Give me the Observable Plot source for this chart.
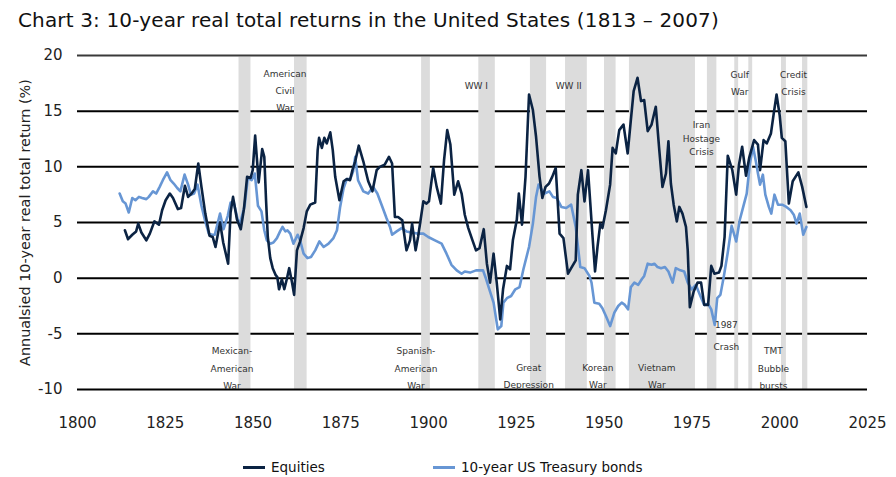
<!DOCTYPE html>
<html>
<head>
<meta charset="utf-8">
<script src="https://cdn.jsdelivr.net/npm/d3@7"></script>
<script src="https://cdn.jsdelivr.net/npm/@observablehq/plot@0.6"></script>
<style>
  body { margin: 0; background: #fff; }
  #wrap { position: relative; width: 896px; height: 477px; font-family: "DejaVu Sans", sans-serif; }
  #title { position: absolute; left: 18px; top: 10px; font-size: 20px; line-height: 20px; letter-spacing: 0.15px; color: #111; white-space: nowrap; font-family: "DejaVu Sans", sans-serif; }
  #chart { position: absolute; left: 0; top: 40px; }
  .lg { position: absolute; top: 459px; font-size: 13.5px; line-height: 16px; color: #111; white-space: nowrap; }
  .sw { display: inline-block; width: 22px; height: 3px; vertical-align: middle; margin-right: 6px; position: relative; top: -1px; }
</style>
</head>
<body>
<div id="wrap">
  <div id="title">Chart 3: 10-year real total returns in the United States (1813 – 2007)</div>
  <div id="chart"></div>
  <div class="lg" style="left:243px"><span class="sw" style="background:#0b2343"></span>Equities</div>
  <div class="lg" style="left:433px"><span class="sw" style="background:#6796d4"></span>10-year US Treasury bonds</div>
</div>
<script>
// Equities: 10-year annualised real total return (%)
const equityYears = [1813.5,1814.4,1815.6,1816.7,1817.3,1818.2,1819.6,1820.6,1821.9,1823.2,1824.1,1825.1,1826.3,1827.2,1828.6,1829.5,1830.6,1831.5,1832.5,1833.4,1834.4,1835.3,1836.4,1837.6,1838.5,1839.3,1840.6,1841.5,1842.9,1843.6,1844.3,1845.4,1846.5,1847.4,1848.3,1849.3,1849.9,1850.6,1851.6,1852.6,1853.2,1853.7,1854.2,1854.9,1855.6,1856.4,1856.9,1857.4,1858.2,1858.9,1859.6,1860.3,1861.1,1861.7,1862.5,1863.4,1864.4,1865.3,1866.3,1867.7,1868.4,1868.8,1869.6,1870.3,1871.0,1872.0,1872.7,1873.4,1874.6,1875.8,1876.7,1877.6,1878.3,1879.1,1880.1,1881.4,1882.8,1884.0,1885.2,1886.1,1887.5,1888.7,1889.6,1890.4,1891.3,1892.5,1893.2,1893.7,1894.7,1895.3,1896.3,1897.0,1898.5,1899.4,1900.1,1901.3,1902.3,1903.5,1904.4,1905.3,1906.2,1907.3,1908.4,1909.4,1910.3,1911.3,1912.5,1913.5,1914.5,1915.7,1916.6,1917.5,1918.5,1919.4,1920.4,1921.2,1922.3,1923.2,1924.0,1925.1,1925.7,1926.6,1927.6,1928.6,1929.7,1930.6,1931.6,1932.4,1933.3,1934.3,1935.2,1936.2,1937.3,1938.4,1939.7,1940.6,1941.9,1942.5,1943.5,1944.4,1945.4,1946.1,1946.7,1947.4,1948.1,1948.9,1949.5,1950.5,1951.7,1952.4,1953.3,1954.3,1955.5,1956.7,1957.6,1958.4,1959.5,1960.5,1961.4,1962.4,1963.5,1964.7,1965.7,1966.6,1967.6,1968.3,1969.0,1969.8,1970.7,1971.4,1972.3,1973.3,1973.8,1974.4,1975.5,1976.6,1977.6,1978.5,1979.6,1980.5,1981.4,1982.7,1983.4,1984.3,1985.2,1986.5,1987.6,1988.4,1989.3,1990.4,1991.3,1992.7,1993.8,1994.4,1995.4,1996.3,1997.5,1998.3,1999.1,2000.0,2000.6,2001.6,2002.6,2003.7,2005.3,2006.4,2007.6];
const equityValues = [4.3,3.5,3.9,4.2,4.9,4.1,3.4,4.0,5.1,4.8,6.1,7.0,7.6,7.2,6.2,6.3,8.3,7.3,7.6,8.0,10.3,8.2,5.8,3.8,3.7,2.8,5.0,3.2,1.3,5.9,7.3,5.3,4.4,6.2,9.1,9.0,9.7,12.8,8.6,11.6,10.9,7.0,3.7,1.8,0.9,0.3,0.1,-1.0,-0.1,-1.0,-0.1,0.9,-0.4,-1.5,2.5,3.3,4.5,6.0,6.6,6.8,11.5,12.6,11.7,12.6,12.1,13.1,11.5,9.1,7.0,8.7,8.9,8.8,9.7,10.5,11.9,10.5,8.7,7.8,9.7,10.0,10.2,10.9,10.3,5.5,5.5,5.2,3.6,2.5,3.4,4.9,2.5,3.7,6.9,6.7,6.9,9.9,8.2,6.7,10.6,13.3,12.0,7.5,8.7,7.6,5.7,4.5,3.4,2.5,2.7,4.4,1.3,-0.4,2.2,-0.4,-3.7,-1.0,1.1,0.8,3.4,5.2,7.6,4.8,9.1,16.5,15.1,12.7,9.1,7.2,8.2,8.5,9.1,9.9,4.0,3.6,0.4,0.9,1.6,7.5,9.7,6.9,9.7,6.5,3.7,0.6,2.8,4.9,4.5,6.1,8.4,11.7,11.2,13.3,13.8,11.2,14.2,16.8,18.0,15.9,16.0,13.2,13.8,15.4,11.5,8.2,9.4,12.3,8.5,6.6,5.1,6.4,5.8,4.6,2.5,-2.6,-1.2,-0.4,-0.4,-2.4,-2.4,1.1,0.4,0.5,1.1,3.7,11.0,9.7,7.5,10.2,11.8,9.2,10.8,12.4,12.0,9.7,12.4,12.1,13.0,14.8,16.5,14.6,12.6,12.3,6.7,8.7,9.5,8.2,6.4];

// 10-year US Treasury bonds
const bondYears = [1812.0,1812.9,1813.7,1814.6,1815.6,1816.5,1817.5,1818.4,1819.6,1820.3,1821.5,1822.4,1823.4,1824.3,1825.5,1826.5,1827.4,1828.4,1829.3,1830.5,1831.5,1832.3,1833.2,1834.2,1835.3,1836.3,1837.4,1838.4,1839.1,1840.6,1841.6,1842.8,1843.6,1844.5,1845.6,1846.3,1847.6,1848.5,1849.6,1850.5,1851.4,1852.4,1853.2,1853.9,1854.9,1855.8,1856.8,1857.7,1858.4,1859.2,1859.8,1860.6,1861.5,1862.7,1863.4,1864.4,1865.5,1866.5,1867.7,1868.9,1870.1,1871.5,1872.9,1873.9,1874.8,1875.8,1876.7,1877.7,1878.5,1879.1,1879.9,1881.4,1882.8,1884.2,1885.4,1886.6,1888.0,1889.0,1889.6,1890.9,1892.3,1893.7,1895.1,1897.0,1898.5,1899.9,1901.8,1903.7,1905.1,1906.5,1908.0,1909.4,1910.3,1911.8,1913.5,1915.5,1916.4,1917.3,1918.5,1919.7,1920.7,1921.3,1922.3,1923.5,1924.7,1925.9,1927.0,1928.6,1929.7,1930.6,1931.3,1932.1,1933.0,1934.4,1935.4,1936.5,1937.8,1939.2,1940.6,1941.9,1943.2,1944.4,1945.8,1946.4,1947.2,1948.6,1949.5,1950.5,1951.7,1952.9,1954.0,1955.0,1955.9,1956.8,1957.6,1958.6,1959.7,1960.7,1961.4,1962.4,1963.5,1964.3,1965.2,1966.2,1967.3,1968.3,1969.5,1970.4,1971.7,1972.8,1973.8,1974.9,1976.1,1977.4,1978.5,1979.6,1980.5,1981.5,1982.2,1983.1,1984.1,1985.2,1986.3,1987.6,1988.6,1989.6,1990.6,1991.5,1992.4,1993.2,1993.8,1994.4,1995.2,1995.9,1996.9,1997.6,1998.5,1999.5,2000.7,2001.9,2003.1,2004.0,2004.8,2005.7,2006.7,2007.6];
const bondValues = [7.6,6.9,6.7,5.9,7.2,7.0,7.3,7.2,7.1,7.3,7.8,7.6,8.2,8.8,9.5,8.8,8.5,8.1,7.8,9.3,8.4,7.5,7.6,8.4,6.5,5.2,4.0,3.9,3.9,5.8,4.4,5.6,6.8,6.8,5.3,4.9,6.5,9.0,8.8,9.4,6.5,6.0,4.3,3.4,3.1,3.2,3.6,4.2,4.6,4.2,4.3,4.0,3.1,3.9,3.4,2.2,1.8,1.9,2.5,3.3,2.8,3.1,3.6,4.3,6.4,8.1,8.9,8.9,9.6,10.9,8.8,7.8,7.6,8.2,7.6,6.6,5.4,4.6,3.9,4.2,4.5,4.2,4.1,4.0,4.0,3.7,3.4,3.1,2.2,1.2,0.7,0.4,0.6,0.5,0.7,0.7,-0.1,-1.0,-2.2,-4.6,-4.3,-2.2,-1.8,-1.6,-1.0,-0.8,0.8,2.8,4.9,7.3,8.4,8.0,7.6,7.8,7.3,7.2,6.4,6.3,6.6,4.6,1.0,0.9,0.2,-0.4,-2.2,-2.3,-2.7,-3.4,-4.3,-3.1,-2.5,-2.2,-2.4,-2.8,-0.8,-0.4,-0.6,-0.1,0.2,1.3,1.2,1.3,1.0,0.9,1.0,0.6,-0.4,0.9,0.7,0.6,-0.4,-1.0,-0.6,-1.6,-2.4,-2.3,-2.8,-4.2,-1.8,-1.5,0.2,2.3,4.7,3.3,5.2,6.4,7.6,10.3,11.8,10.5,9.4,8.4,9.3,7.5,6.4,5.8,7.5,6.6,6.6,6.4,6.1,5.7,4.9,5.8,3.9,4.6];

// Shaded event periods (start year, end year)
const bandStarts = [1846.0,1861.8,1898.0,1914.3,1929.0,1939.0,1950.1,1957.2,1979.4,1987.2,1991.2,2000.5,2006.5];
const bandEnds   = [1849.4,1865.4,1900.5,1919.0,1933.6,1945.2,1953.4,1976.0,1982.1,1988.3,1992.3,2001.9,2008.0];

// Event annotations
const annoLabels = ["American\nCivil\nWar","WW I","WW II","Gulf\nWar","Credit\nCrisis","Mexican-\nAmerican\nWar","Spanish-\nAmerican\nWar","Great\nDepression","Korean\nWar","Vietnam\nWar","TMT\nBubble\nbursts"];
const annoYears  = [1859.1,1913.6,1939.9,1988.6,2003.9,1844.0,1896.4,1928.5,1948.2,1965.0,1998.2];
const annoValues = [17.05,17.5,17.5,17.7,17.7,-7.9,-7.9,-8.65,-8.65,-8.65,-7.9];
// annotations with tighter / wider line spacing
const iranLabel = ["Iran\nHostage\nCrisis"], iranYear = [1977.7], iranValue = [12.65];
const crashLabel = ["1987\nCrash"], crashYear = [1984.8], crashValue = [-4.85];

const xTicks = [1800,1825,1850,1875,1900,1925,1950,1975,2000,2025];
const yTicks = [-10,-5,0,5,10,15,20];
const yLabel = "Annualsied 10-year real total return (%)";

const equities = equityYears.map((y, i) => ({year: y, value: equityValues[i]}));
const bonds = bondYears.map((y, i) => ({year: y, value: bondValues[i]}));
const bands = bandStarts.map((s, i) => ({start: s, end: bandEnds[i]}));
const annos = annoLabels.map((t, i) => ({text: t, year: annoYears[i], value: annoValues[i]}));
const iran = iranLabel.map((t, i) => ({text: t, year: iranYear[i], value: iranValue[i]}));
const crash = crashLabel.map((t, i) => ({text: t, year: crashYear[i], value: crashValue[i]}));

const annoStyle = {fontSize: 9, fill: "#333", textAnchor: "middle", lineAnchor: "middle"};

const chart = Plot.plot({
  width: 896,
  height: 405,
  marginLeft: 77,
  marginRight: 29,
  marginTop: 15,
  marginBottom: 56,
  style: {fontFamily: "DejaVu Sans, sans-serif", color: "#222", background: "#fff"},
  x: {domain: [1800, 2025]},
  y: {domain: [-10, 20]},
  marks: [
    Plot.ruleY(yTicks.filter(d => d > -10 && d < 20), {stroke: "#000", strokeWidth: 2}),
    Plot.rect(bands, {x1: "start", x2: "end", y1: -10, y2: 19.85, fill: "#dcdcdc"}),
    Plot.ruleY([20], {stroke: "#3a3a3a", strokeWidth: 2}),
    Plot.ruleY([-10], {stroke: "#000", strokeWidth: 2}),
    Plot.line(bonds, {x: "year", y: "value", stroke: "#6796d4", strokeWidth: 2.6}),
    Plot.line(equities, {x: "year", y: "value", stroke: "#0b2343", strokeWidth: 2.6}),
    Plot.text(annos, {x: "year", y: "value", text: "text", lineHeight: 1.9, ...annoStyle}),
    Plot.text(iran, {x: "year", y: "value", text: "text", lineHeight: 1.5, ...annoStyle}),
    Plot.text(crash, {x: "year", y: "value", text: "text", lineHeight: 2.45, ...annoStyle}),
    Plot.axisX({ticks: xTicks, tickSize: 0, tickPadding: 28, fontSize: 15, tickFormat: d => String(d), label: null}),
    Plot.axisY({ticks: yTicks, tickSize: 0, tickPadding: 15, fontSize: 15, tickFormat: d => String(d), label: null}),
    Plot.text([yLabel], {frameAnchor: "left", dx: -52, rotate: -90, fontSize: 14.4, fill: "#222", textAnchor: "middle", lineAnchor: "middle"})
  ]
});
document.getElementById("chart").appendChild(chart);
</script>
</body>
</html>
